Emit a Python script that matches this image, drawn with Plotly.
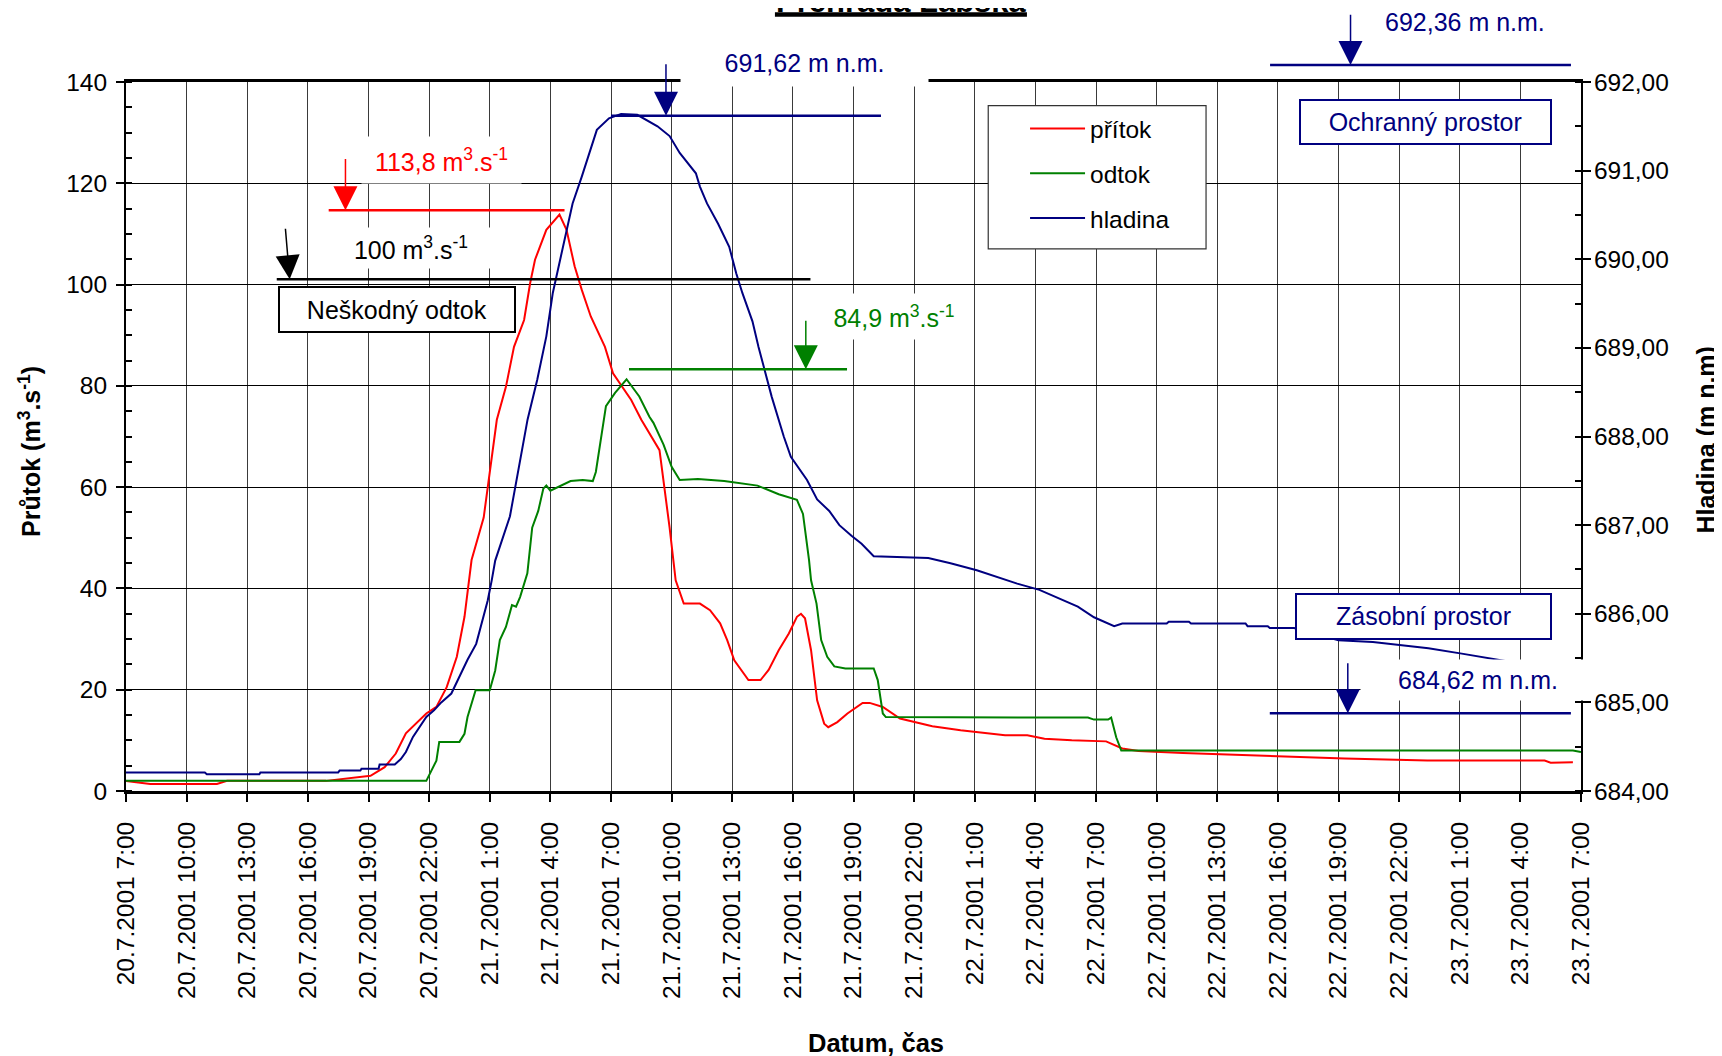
import pandas as pd
import plotly.graph_objects as go

START = pd.Timestamp("2001-07-20 07:00")

# ---- data (hours since 20.7.2001 7:00) ----
pritok_h = [0, 1.2, 4.5, 5, 9.9, 12.1, 12.8, 13.35, 13.85, 14.86, 15.36, 15.87, 16.37, 16.75, 17.1,
            17.7, 18.35, 18.8, 19.2, 19.7, 20.0, 20.24, 20.8, 21.45, 21.8, 22.2, 22.55, 23.0, 23.7,
            24.1, 25.0, 25.5, 26.4, 26.9, 27.2, 27.6, 28.4, 28.9, 29.4, 29.75, 30.1, 30.8, 31.4,
            31.8, 32.3, 32.8, 33.2, 33.4, 33.6, 33.9, 34.2, 34.55, 34.75, 35.2, 35.7, 36.45, 36.8,
            37.45, 38.3, 39.9, 41.3, 43.5, 44.6, 45.45, 46.8, 48.5, 49.3, 50.1, 52.3, 54.5, 57.3,
            60.3, 64.4, 70.2, 70.5, 71.6]
pritok_q = [2.0, 1.4, 1.4, 2.0, 2.0, 3.0, 4.7, 7.4, 11.4, 15.3, 16.6, 20.5, 26.5, 34.4, 45.6,
            54.0, 73.3, 79.8, 87.7, 93.0, 100.3, 104.9, 110.8, 113.8, 110.8, 103.6, 99.0, 93.7, 87.7,
            82.5, 77.2, 73.3, 67.3, 52.0, 41.6, 37.0, 37.0, 35.7, 33.1, 29.8, 25.8, 21.9, 21.9,
            23.9, 27.8, 31.1, 34.4, 35.0, 34.1, 27.8, 17.9, 13.3, 12.6, 13.6, 15.3, 17.4, 17.4,
            16.6, 14.3, 12.8, 12.0, 11.0, 11.0, 10.3, 10.0, 9.8, 8.4, 7.9, 7.5, 7.2, 6.7,
            6.4, 6.0, 6.0, 5.6, 5.7]

odtok_h = [0, 14.86, 15.36, 15.5, 16.5, 16.75, 16.9, 17.3, 18.0, 18.27, 18.5, 18.8, 19.1, 19.3,
           19.5, 19.86, 20.1, 20.4, 20.65, 20.8, 21.0, 21.5, 22.0, 22.6, 23.1, 23.25, 23.5, 23.75,
           24.2, 24.77, 25.4, 25.9, 26.1, 26.6, 27.0, 27.4, 28.3, 29.6, 31.25, 32.3, 33.2, 33.5,
           33.8, 33.9, 34.17, 34.4, 34.7, 35.05, 35.6, 37.0, 37.2, 37.45, 37.6, 47.6, 47.9, 48.6,
           48.75, 49.0, 49.25, 71.6, 72]
odtok_q = [2.0, 2.0, 6.0, 9.7, 9.7, 11.3, 14.6, 19.9, 19.9, 23.8, 29.8, 32.4, 36.7, 36.4,
           38.3, 43.0, 52.0, 55.3, 59.7, 60.3, 59.3, 60.3, 61.2, 61.4, 61.2, 63.0, 69.5, 76.0,
           78.6, 81.3, 77.9, 73.9, 72.7, 68.4, 64.0, 61.4, 61.6, 61.2, 60.3, 58.6, 57.5, 54.7,
           45.6, 41.6, 37.0, 29.8, 26.5, 24.6, 24.2, 24.2, 21.9, 15.3, 14.6, 14.5, 14.1, 14.1,
           14.5, 10.6, 8.0, 8.0, 7.7]

hladina_h = [0, 3.9, 4.0, 6.6, 6.65, 10.5, 10.57, 11.6, 11.65, 12.5, 12.55, 13.3, 13.6, 13.85,
             14.2, 14.86, 15.24, 15.6, 16.1, 16.5, 16.9, 17.33, 17.6, 17.9, 18.1, 18.27, 19.0,
             19.87, 20.35, 20.8, 21.12, 21.56, 22.1, 22.55, 23.0, 23.3, 23.9, 24.5, 25.3, 26.3,
             26.9, 27.4, 28.2, 28.4, 28.75, 29.3, 29.85, 30.2, 30.5, 31.0, 31.3, 31.95, 32.55,
             32.9, 33.7, 34.2, 34.8, 35.3, 35.9, 36.4, 37.0, 39.7, 40.8, 42.1, 44.1, 45.2, 47.1,
             47.9, 48.9, 49.3, 51.5, 51.6, 52.6, 52.7, 55.4, 55.5, 56.5, 56.6, 57.8, 60.0, 61.7,
             63.1, 64.45, 66.1, 67.5, 68.4, 72]
hladina_m = [684.21, 684.21, 684.19, 684.19, 684.21, 684.21, 684.23, 684.23, 684.25, 684.25,
             684.30, 684.30, 684.36, 684.44, 684.61, 684.835, 684.91, 685.0, 685.1, 685.29,
             685.48, 685.66, 685.89, 686.15, 686.38, 686.6, 687.1, 688.19, 688.64, 689.13,
             689.62, 690.07, 690.63, 690.93, 691.24, 691.46, 691.59, 691.64, 691.63, 691.5,
             691.39, 691.2, 690.97, 690.82, 690.63, 690.4, 690.14, 689.84, 689.62, 689.3,
             689.01, 688.45, 688.0, 687.77, 687.51, 687.29, 687.16, 687.0, 686.88, 686.79,
             686.65, 686.63, 686.57, 686.49, 686.34, 686.27, 686.08, 685.96, 685.86, 685.89,
             685.89, 685.91, 685.91, 685.89, 685.89, 685.86, 685.86, 685.84, 685.84, 685.70,
             685.68, 685.64, 685.61, 685.55, 685.49, 685.46, 685.42]

FONT = "Arial, Liberation Sans, sans-serif"
RED, GREEN, NAVY = "#FF0000", "#008000", "#000080"


def ts(h):
    return (START + pd.Timedelta(hours=h)).strftime("%Y-%m-%d %H:%M:%S")


fig = go.Figure()
fig.add_trace(go.Scatter(x=[ts(h) for h in pritok_h], y=pritok_q, name="přítok", mode="lines",
                         line=dict(color=RED, width=2), legendgroup="a"))
fig.add_trace(go.Scatter(x=[ts(h) for h in odtok_h], y=odtok_q, name="odtok", mode="lines",
                         line=dict(color=GREEN, width=2), legendgroup="b"))
fig.add_trace(go.Scatter(x=[ts(h) for h in hladina_h], y=hladina_m, name="hladina", mode="lines",
                         line=dict(color=NAVY, width=2), yaxis="y2", legendgroup="c"))

shapes = [
    # legend frame
    dict(type="rect", xref="paper", yref="paper", x0=0.5926, x1=0.7423, y0=0.7645, y1=0.9666,
         fillcolor="white", line=dict(color="#333333", width=1.2), layer="above"),
    # level lines
    dict(type="line", xref="x", yref="y", x0=ts(10.03), x1=ts(21.7), y0=114.7, y1=114.7,
         line=dict(color=RED, width=2.5)),
    dict(type="line", xref="x", yref="y", x0=ts(7.46), x1=ts(33.87), y0=101.04, y1=101.04,
         line=dict(color="black", width=2.5)),
    dict(type="line", xref="x", yref="y", x0=ts(24.89), x1=ts(35.68), y0=83.27, y1=83.27,
         line=dict(color=GREEN, width=2.5)),
    dict(type="line", xref="x", yref="y2", x0=ts(24.0), x1=ts(37.36), y0=691.62, y1=691.62,
         line=dict(color=NAVY, width=2.5)),
    dict(type="line", xref="x", yref="y2", x0=ts(56.6), x1=ts(71.5), y0=684.877, y1=684.877,
         line=dict(color=NAVY, width=2.5)),
    dict(type="line", xref="paper", yref="paper", x0=0.7863, x1=0.9931, y0=1.024, y1=1.024,
         line=dict(color=NAVY, width=2.5)),
    # title underline
    dict(type="line", xref="paper", yref="paper", x0=0.446, x1=0.6192, y0=1.0952, y1=1.0952,
         line=dict(color="black", width=4.3)),
]


def textbox(x, y, text, color, w, h, xref="x", yref="y", border=None, bw=0, pad=0, size=25):
    d = dict(x=x, y=y, xref=xref, yref=yref, text=text, showarrow=False,
             font=dict(family=FONT, size=size, color=color), bgcolor="white",
             width=w - 2 * (bw + pad), height=h - 2 * (bw + pad), borderpad=pad,
             xanchor="center", yanchor="middle", align="center", valign="middle")
    if border:
        d.update(bordercolor=border, borderwidth=bw)
    return d


def arrow(x, y, color, ay, ax=0, xref="x", yref="y"):
    return dict(x=x, y=y, xref=xref, yref=yref, text="", showarrow=True, arrowhead=2,
                arrowsize=3.2, arrowwidth=1.5, arrowcolor=color, ax=ax, ay=ay, standoff=0)


sup = "m<sup>3</sup>.s<sup>-1</sup>"
annotations = [
    # white text boxes
    textbox(ts(15.62), 124.6, "113,8 " + sup, RED, 159, 46),
    textbox(ts(14.12), 107.3, "100 " + sup, "black", 170, 40),
    textbox(ts(38.0), 93.6, "84,9 " + sup, GREEN, 140, 45),
    textbox(0.466, 1.0264, "691,62 m n.m.", NAVY, 247, 46, xref="paper", yref="paper"),
    textbox(ts(66.92), 21.92, "684,62 m n.m.", NAVY, 234, 40),
    dict(x=0.92, y=1.0851, xref="paper", yref="paper", text="692,36 m n.m.", showarrow=False,
         font=dict(family=FONT, size=25, color=NAVY), xanchor="center", yanchor="middle"),
    # framed boxes
    textbox(ts(13.39), 95.04, "Neškodný odtok", "black", 237.5, 47, border="black", bw=2, pad=1),
    textbox(ts(64.31), 132.06, "Ochranný prostor", NAVY, 252.5, 45.7, border=NAVY, bw=2, pad=1),
    textbox(ts(64.2), 34.42, "Zásobní prostor", NAVY, 257, 46.7, border=NAVY, bw=2, pad=1),
    # arrows
    arrow(ts(10.86), 114.7, RED, -52.7),
    arrow(ts(8.10), 101.04, "black", -52, ax=-4.4),
    arrow(ts(33.64), 83.27, GREEN, -50),
    arrow(ts(26.72), 691.62, NAVY, -53, yref="y2"),
    arrow(ts(60.46), 684.877, NAVY, -51.6, yref="y2"),
    arrow(0.8416, 1.024, NAVY, -51.7, xref="paper", yref="paper"),
    # title (mostly above the visible page, as in the original)
    dict(x=0.533, y=1.0857, xref="paper", yref="paper", text="<b>Přehrada Labská</b>",
         showarrow=False, font=dict(family=FONT, size=31, color="black"),
         xanchor="center", yanchor="bottom"),
    # axis titles
    dict(x=0.5155, y=-0.3554, xref="paper", yref="paper", text="<b>Datum, čas</b>",
         showarrow=False, font=dict(family=FONT, size=25.5, color="black"),
         xanchor="center", yanchor="middle"),
    dict(x=-0.066, y=0.4795, xref="paper", yref="paper",
         text="<b>Průtok (m<sup>3</sup>.s<sup>-1</sup>)</b>", textangle=-90,
         showarrow=False, font=dict(family=FONT, size=25, color="black"),
         xanchor="center", yanchor="middle"),
    dict(x=1.0856, y=0.495, xref="paper", yref="paper", text="<b>Hladina (m n.m)</b>",
         textangle=-90, showarrow=False, font=dict(family=FONT, size=25, color="black"),
         xanchor="center", yanchor="middle"),
]

fig.update_layout(
    width=1714, height=1048,
    margin=dict(l=118, r=141, t=74, b=265, pad=0),
    paper_bgcolor="white", plot_bgcolor="white",
    separators=", ",
    font=dict(family=FONT, size=24.5, color="black"),
    showlegend=True,
    legend=dict(x=0.6179, y=0.9662, xanchor="left", yanchor="top", bgcolor="rgba(0,0,0,0)",
                borderwidth=0, font=dict(family=FONT, size=24.5, color="black"),
                tracegroupgap=10, traceorder="grouped", itemwidth=55),
    xaxis=dict(type="date", range=[ts(0), ts(72)], tick0=ts(0), dtick=3 * 3600 * 1000,
               tickformat="%-d.%-m.%Y %-H:%M", tickangle=-90,
               tickfont=dict(family=FONT, size=24.5, color="black"),
               ticks="outside", ticklen=8, tickwidth=1.5, tickcolor="black",
               ticklabelstandoff=10,
               showgrid=True, gridcolor="#3a3a3a", gridwidth=1,
               showline=True, linecolor="black", linewidth=3, mirror=True,
               zeroline=False, automargin=False),
    yaxis=dict(range=[0, 140], tick0=0, dtick=20, showgrid=True, gridcolor="black", gridwidth=1,
               ticks="outside", ticklen=8, tickwidth=2, tickcolor="black", ticklabelstandoff=4,
               tickfont=dict(family=FONT, size=24.5, color="black"),
               minor=dict(dtick=5, tick0=0, ticks="inside", ticklen=6, tickwidth=1.5,
                          tickcolor="black", showgrid=False),
               showline=True, linecolor="black", linewidth=2, zeroline=False, automargin=False),
    yaxis2=dict(range=[684, 692], tick0=684, dtick=1, tickformat=".2f", overlaying="y",
                side="right", showgrid=False, ticks="outside", ticklen=8, tickwidth=2,
                tickcolor="black", ticklabelstandoff=-2,
                tickfont=dict(family=FONT, size=24.5, color="black"),
                minor=dict(dtick=0.5, tick0=684, ticks="inside", ticklen=6, tickwidth=1.5,
                           tickcolor="black", showgrid=False),
                showline=True, linecolor="black", linewidth=2, zeroline=False, automargin=False),
    shapes=shapes,
    annotations=annotations,
)

fig.write_html("out.html")
